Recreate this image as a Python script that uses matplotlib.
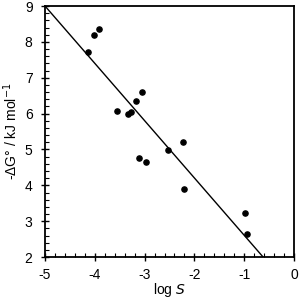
import numpy as np
import matplotlib
matplotlib.use("Agg")
import matplotlib.pyplot as plt
from matplotlib.ticker import MultipleLocator

plt.rcParams['font.family'] = ['Liberation Sans', 'DejaVu Sans']
plt.rcParams['axes.unicode_minus'] = False

# data
log_s = [-4.14, -4.02, -3.91, -3.55, -3.34, -3.27, -3.17, -3.06,
         -3.11, -2.97, -2.54, -2.23, -2.20, -0.99, -0.95]
neg_dg = [7.71, 8.20, 8.37, 6.06, 6.00, 6.04, 6.35, 6.60,
          4.77, 4.65, 4.99, 5.22, 3.90, 3.24, 2.63]
fit_x = [-5.0, -0.62]
fit_y = [9.0, 2.0]

fig = plt.figure(figsize=(3.0, 3.01), dpi=100)
ax = fig.add_axes([0.15, 0.146, 0.83, 0.834])

ax.plot(fit_x, fit_y, color='black', lw=1.0)
ax.scatter(log_s, neg_dg, s=14, color='black', zorder=3)

ax.set_xlim(-5, 0)
ax.set_ylim(2, 9)
ax.xaxis.set_major_locator(MultipleLocator(1))
ax.xaxis.set_minor_locator(MultipleLocator(0.2))
ax.yaxis.set_major_locator(MultipleLocator(1))
ax.yaxis.set_minor_locator(MultipleLocator(0.2))
ax.tick_params(which='major', direction='inout', length=6, width=1, labelsize=10)
ax.tick_params(axis='x', which='major', pad=5)
ax.tick_params(axis='y', which='major', pad=6)
ax.tick_params(which='minor', direction='in', length=3, width=0.8)
ax.tick_params(top=False, right=False)

for sp in ax.spines.values():
    sp.set_linewidth(1.3)

ax.set_xlabel(r"log $\it{S}$", fontsize=10, labelpad=-1)
ax.set_ylabel(r"-ΔG° / kJ mol$^{-1}$", fontsize=10, labelpad=3)

fig.savefig("out.png", dpi=100)
